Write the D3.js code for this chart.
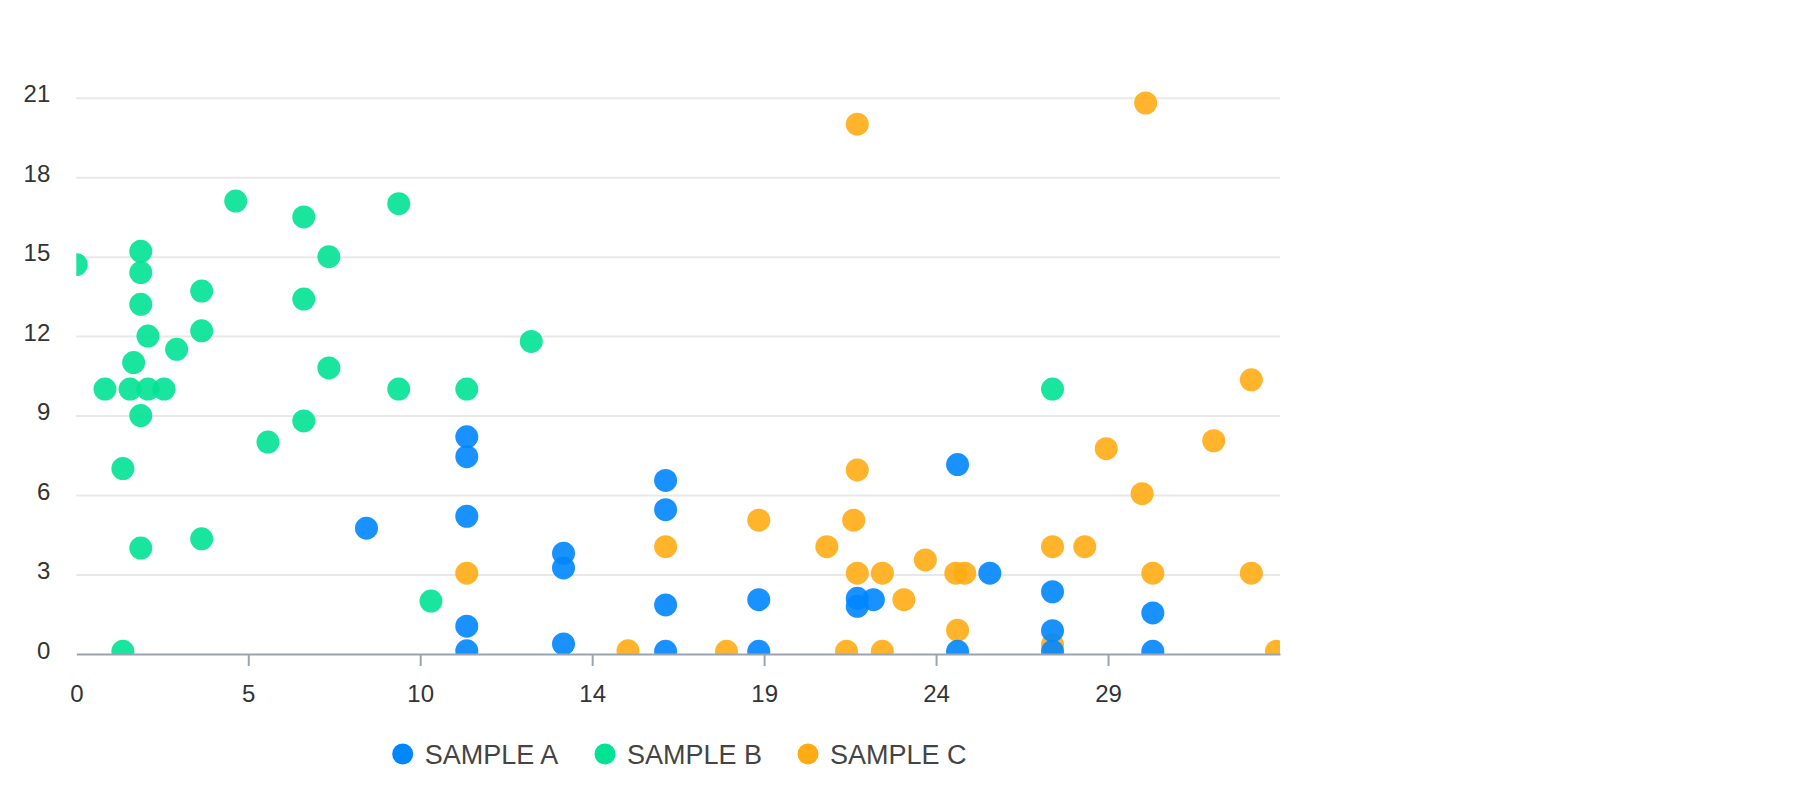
<!DOCTYPE html>
<html>
<head>
<meta charset="utf-8">
<script src="https://cdn.jsdelivr.net/npm/d3@7"></script>
<style>
  body { margin: 0; background: #fff; }
  svg { display: block; font-family: "Liberation Sans", Arial, sans-serif; }
</style>
</head>
<body>
<div id="chart"></div>
<script>
// series names and colours
const seriesNames = ["SAMPLE A", "SAMPLE B", "SAMPLE C"];
const seriesColors = ["#0086ff", "#00e294", "#ffac14"];

// [x, y] points
const sampleA = [
  [8.1, 4.75],
  [10.9, 8.2], [10.9, 7.45], [10.9, 5.2], [10.9, 1.05], [10.9, 0.12],
  [13.6, 3.8], [13.6, 3.25], [13.6, 0.38],
  [16.45, 6.55], [16.45, 5.45], [16.45, 1.85], [16.45, 0.1],
  [19.05, 2.05], [19.05, 0.1],
  [21.8, 2.1], [21.8, 1.8], [22.25, 2.05],
  [24.6, 7.15], [24.6, 0.1], [25.5, 3.05],
  [27.25, 2.35], [27.25, 0.88], [27.25, 0.1],
  [30.05, 1.55], [30.05, 0.1]
];
const sampleB = [
  [0, 14.7], [0.8, 10.0], [1.3, 7.0], [1.3, 0.1], [1.5, 10.0], [1.6, 11.0],
  [1.8, 15.2], [1.8, 14.4], [1.8, 13.2], [1.8, 9.0], [1.8, 4.0],
  [2.0, 12.0], [2.0, 10.0], [2.45, 10.0], [2.8, 11.5],
  [3.5, 13.7], [3.5, 12.2], [3.5, 4.35], [4.45, 17.1], [5.35, 8.0],
  [6.35, 16.5], [6.35, 13.4], [6.35, 8.8], [7.05, 15.0], [7.05, 10.8],
  [9.0, 17.0], [9.0, 10.0], [9.9, 2.0], [10.9, 10.0], [12.7, 11.8],
  [27.25, 10.0]
];
const sampleC = [
  [10.9, 3.05], [15.4, 0.12], [16.45, 4.05], [18.15, 0.1], [19.05, 5.05],
  [20.95, 4.05], [21.5, 0.1], [21.7, 5.05], [21.8, 6.95], [21.8, 3.05],
  [21.8, 20.0], [22.5, 3.05], [22.5, 0.1], [23.1, 2.05], [23.7, 3.55],
  [24.55, 3.05], [24.8, 3.05], [24.6, 0.9], [27.25, 4.05], [27.25, 0.35],
  [28.15, 4.05], [28.75, 7.75], [29.75, 6.05], [29.85, 20.8], [30.05, 3.05],
  [31.75, 8.05], [32.8, 10.35], [32.8, 3.05], [33.5, 0.1]
];

// axis ticks
const xTicks = [0, 4.8, 9.6, 14.4, 19.2, 24, 28.8];
const yTicks = [0, 3, 6, 9, 12, 15, 18, 21];
const xMax = 33.6;
const yMax = 21;

const width = 1802, height = 796;
const plotLeft = 76.3, plotRight = 1280, plotTop = 97.7, plotBottom = 654;

const svg = d3.select("#chart").append("svg")
  .attr("width", width)
  .attr("height", height);

const x = d3.scaleLinear().domain([0, xMax]).range([plotLeft, plotRight]);
const y = d3.scaleLinear().domain([0, yMax]).range([plotBottom, plotTop]);

// gridlines + y labels
const yAxis = svg.append("g")
  .attr("transform", `translate(${plotLeft},0)`)
  .call(d3.axisLeft(y).tickValues(yTicks).tickSize(-(plotRight - plotLeft)).tickPadding(26));
yAxis.select(".domain").remove();
yAxis.selectAll(".tick line")
  .attr("stroke", "#e8e8e8")
  .attr("stroke-width", 2)
  .filter(d => d === 0).remove();
yAxis.selectAll(".tick text")
  .attr("dy", 0)
  .attr("y", 4)
  .attr("fill", "#333")
  .style("font-size", "24px");

// points, clipped to the plot area
svg.append("clipPath").attr("id", "plot-clip")
  .append("rect")
  .attr("x", plotLeft).attr("y", 40)
  .attr("width", plotRight - plotLeft).attr("height", plotBottom - 40);

const allSeries = [sampleA, sampleB, sampleC];
const pts = svg.append("g").attr("clip-path", "url(#plot-clip)");
// draw C first so A ends up on top
[2, 1, 0].forEach(i => {
  pts.append("g")
    .selectAll("circle")
    .data(allSeries[i])
    .enter().append("circle")
    .attr("cx", d => x(d[0]))
    .attr("cy", d => y(d[1]))
    .attr("r", 11.5)
    .attr("fill", seriesColors[i])
    .attr("fill-opacity", 0.9);
});

// x axis
const xAxis = svg.append("g")
  .attr("transform", `translate(0,${plotBottom})`)
  .call(d3.axisBottom(x).tickValues(xTicks).tickSize(12).tickSizeOuter(0)
    .tickFormat(d => Math.round(d)));
xAxis.select(".domain")
  .attr("stroke", "#9aa4ae")
  .attr("stroke-width", 2);
xAxis.selectAll(".tick line")
  .attr("stroke", "#9aa4ae")
  .attr("stroke-width", 2)
  .filter(d => d === 0).remove();
xAxis.selectAll(".tick text")
  .attr("dy", 0)
  .attr("y", 48)
  .attr("fill", "#333")
  .style("font-size", "24px");

// legend
const legend = svg.append("g");
const legendX = [402.7, 605, 808];
seriesNames.forEach((name, i) => {
  const item = legend.append("g").attr("transform", `translate(${legendX[i]},754)`);
  item.append("circle").attr("r", 10.5).attr("fill", seriesColors[i]);
  item.append("text")
    .attr("x", 22)
    .attr("y", 10)
    .attr("fill", "#444")
    .style("font-size", "27px")
    .text(name);
});
</script>
</body>
</html>
